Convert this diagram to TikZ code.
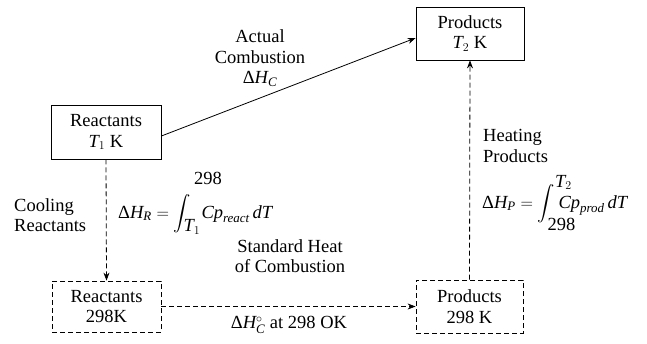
\documentclass[tikz,border=0pt]{standalone}
\usepackage{amsmath}
\usepackage{fontspec}
\setmainfont{Liberation Serif}
\newfontfamily\tnr{LiberationSerif}[Extension=.ttf, UprightFont=*-Regular, ItalicFont=*-Italic, BoldFont=*-Bold]
\usetikzlibrary{arrows.meta}
\newcommand{\itx}[1]{{\tnr\itshape #1}}
\begin{document}
\begin{tikzpicture}[x=1pt,y=-1pt,
  every node/.style={font=\tnr\fontsize{18.5}{20.5}\selectfont, inner sep=0pt},
  solidbox/.style={draw, line width=0.8pt, align=center},
  dashbox/.style={draw, line width=0.8pt, align=center, dash pattern=on 5pt off 3pt},
  conn/.style={line width=0.8pt, -{Stealth[length=8pt,width=6pt]}},
  dconn/.style={conn, dash pattern=on 5pt off 3pt},
  lbl/.style={align=center},
  lbll/.style={align=left}]
\useasboundingbox (0,0) rectangle (647,343);
\node[solidbox, minimum width=110pt, minimum height=54pt] (r1) at (106,132) {Reactants\\ \itx{T}$_1$ K};
\node[solidbox, minimum width=108pt, minimum height=53pt] (p1) at (470,33.5) {Products\\ \itx{T}$_2$ K};
\node[dashbox, minimum width=109pt, minimum height=51pt] (r2) at (106.5,306.5) {Reactants\\ 298K};
\node[dashbox, minimum width=107pt, minimum height=53pt] (p2) at (469.5,306.5) {Products\\ 298 K};

\draw[conn] ([yshift=-4pt]r1.east) -- ([yshift=-4.5pt]p1.west);
\draw[dconn] (r1.south) -- (r2.north);
\draw[dconn] (r2.east) -- (p2.west);
\draw[dconn] (p2.north) -- (p1.south);

\node[lbl] (lac) at (260,58) {Actual\\ Combustion\\ Δ\itx{H}$_{\text{\itx{C}}}$};
\node[lbll, anchor=west] (lcr) at (14,215) {Cooling\\ Reactants};
\node[lbll, anchor=west] (lhp) at (483,146) {Heating\\ Products};
\node[lbl] (lsh) at (290,256) {Standard Heat\\ of Combustion};
\node[lbl] (ldh) at (289,325) {Δ\itx{H}$^{\circ}_{\text{\itx{C}}}$ at 298 OK};
\node[anchor=west] (fr) at (118,203) {Δ\itx{H}$_{\text{\itx{R}}} = \displaystyle\int_{\rlap{\raisebox{2pt}{\itx{T}$_1$}}}^{\rlap{\hspace{3pt}\raisebox{15pt}{298}}}\hspace{7pt}\text{\itx{Cp}}_{\text{\itx{react}}}\,\text{\itx{dT}}$};
\node[anchor=west] (fp) at (482,203) {Δ\itx{H}$_{\text{\itx{P}}} = \displaystyle\int_{\rlap{\raisebox{-7pt}{298}}}^{\rlap{\raisebox{2pt}{\itx{T}$_2$}}}\text{\itx{Cp}}_{\text{\itx{prod}}}\,\text{\itx{dT}}$};
\end{tikzpicture}
\end{document}
